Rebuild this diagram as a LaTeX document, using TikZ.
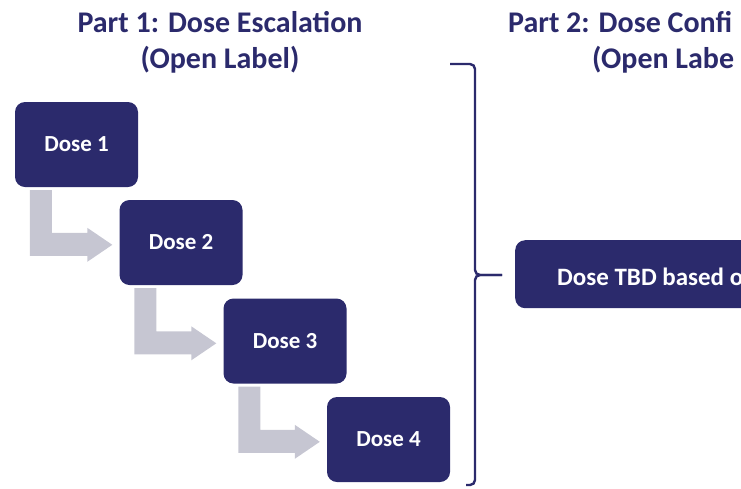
\documentclass[tikz,border=0pt]{standalone}
\usepackage{fontspec}
\setmainfont{Carlito}
\usetikzlibrary{calc}
\definecolor{navy}{RGB}{43,42,108}
\definecolor{arrowgray}{RGB}{198,198,210}
\tikzset{
  dosebox/.style={fill=navy, rounded corners=10pt, minimum width=123pt, minimum height=85pt, inner sep=0pt,
    text=white, font=\fontsize{23}{27}\selectfont\bfseries},
  titletext/.style={text=navy, font=\fontsize{30}{36}\selectfont\bfseries, inner sep=0pt},
  bracket/.style={draw=navy, line width=2.4pt, rounded corners=5pt},
  steparrow/.style={fill=arrowgray}
}
\begin{document}
\begin{tikzpicture}[x=1pt,y=-1pt]
\useasboundingbox (0,0) rectangle (741,488);
\clip (0,0) rectangle (741,488);
% titles
\node[titletext, anchor=base] (t1a) at (220,32) {Part 1: Dose Escalation};
\node[titletext, anchor=base] (t1b) at (220,68) {(Open Label)};
\node[titletext, anchor=base west] (t2a) at (508,32) {Part 2: Dose Confi};
\node[titletext, anchor=base west] (t2b) at (592,68) {(Open Labe};
% dose boxes
\node[dosebox] (d1) at (76.5,144.5) {Dose 1};
\node[dosebox] (d2) at (181,242.5) {Dose 2};
\node[dosebox] (d3) at (285,341) {Dose 3};
\node[dosebox] (d4) at (388.5,439.5) {Dose 4};
% step arrows
\foreach \a/\b in {d1/d2,d2/d3,d3/d4}{
  \fill[steparrow] let \p1=(\a.south west), \p2=(\b.north west) in
    (\x1+15pt,\y1-3pt) -- (\x1+37pt,\y1-3pt) -- (\x1+37pt,\y2-33pt) -- (\x2-32pt,\y2-33pt)
    -- (\x2-32pt,\y2-28pt) -- (\x2-7pt,\y2-45pt) -- (\x2-32pt,\y2-62pt) -- (\x2-32pt,\y2-56pt)
    -- (\x1+15pt,\y2-56pt) -- cycle;
}
% bracket
\coordinate (bt) at (450,64);
\coordinate (bm) at (502,275);
\coordinate (bb) at (466,485);
\draw[bracket] (bt) -- (475,64) -- (475,275) -- (bm);
\draw[bracket] (bm) -- (475,275) -- (475,485) -- (bb);
% part 2 box
\node[dosebox, anchor=north west, minimum width=300pt, minimum height=68pt] (tbd) at (515,240) {};
\node[anchor=base west, inner sep=0pt, text=white, font=\fontsize{25}{29}\selectfont\bfseries] (tbdtext) at (557,285) {Dose TBD based o};
\end{tikzpicture}
\end{document}
